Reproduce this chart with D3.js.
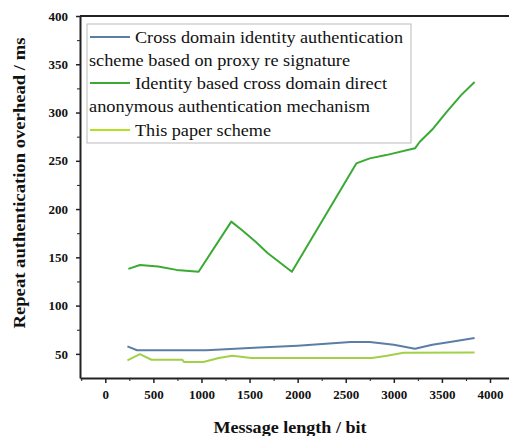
<!DOCTYPE html>
<html lang="en">
<head>
    <meta charset="UTF-8">
    <script src="https://cdnjs.cloudflare.com/ajax/libs/d3/7.8.5/d3.min.js" type="text/JavaScript"></script>
    <style>
        body {
            margin: 0;
            background: #fff;
        }
        svg {
            display: block;
        }
    </style>
</head>
<body>
    <svg id="chart" width="509" height="436"></svg>

    <script>
        // message length (bit) and overhead (ms)
        const proxyX = [230, 330, 1050, 1600, 2000, 2550, 2750, 3000, 3220, 3400, 3600, 3840];
        const proxyY = [57.7, 53.8, 53.8, 56.5, 58.5, 62.2, 62.2, 59.4, 55.3, 59.5, 62.5, 66.4];

        const directX = [240, 360, 550, 740, 970, 1310, 1420, 1560, 1690, 1940, 2610, 2750, 2920, 3220, 3270, 3410, 3550, 3700, 3840];
        const directY = [138, 142, 140.5, 137, 135, 187, 178.4, 166.3, 154.3, 135, 247.3, 252.5, 255.9, 262.9, 269.7, 283.5, 300.7, 318, 331.7];

        const paperX = [230, 360, 480, 800, 820, 1020, 1180, 1320, 1520, 2770, 2930, 3100, 3840];
        const paperY = [43.2, 49.8, 43.9, 43.9, 41.5, 41.5, 45.7, 48.1, 45.7, 45.7, 48.1, 51.2, 51.5];

        const xTicks = [0, 500, 1000, 1500, 2000, 2500, 3000, 3500, 4000];
        const xMinor = [-250, 250, 750, 1250, 1750, 2250, 2750, 3250, 3750];
        const yTicks = [50, 100, 150, 200, 250, 300, 350, 400];
        const yMinor = [75, 125, 175, 225, 275, 325, 375];

        const seriesNames = [
            ["Cross domain identity authentication", "scheme based on proxy re signature"],
            ["Identity based cross domain direct", "anonymous authentication mechanism"],
            ["This paper scheme"]
        ];
        const seriesColors = ["#5b7ea6", "#3aaa35", "#a2d048"];

        const fontName = "Liberation Serif";

        function drawChart() {
            const svg = d3.select("#chart");
            const left = 80, right = 515, top = 16, bottom = 378;

            const x = d3.scaleLinear().domain([-263, 4260]).range([left, right]);
            const y = d3.scaleLinear().domain([25, 400]).range([bottom, top]);

            const series = [
                d3.zip(proxyX, proxyY),
                d3.zip(directX, directY),
                d3.zip(paperX, paperY)
            ];

            // top frame line
            svg.append("line")
                .attr("x1", left).attr("x2", 509)
                .attr("y1", y(400)).attr("y2", y(400))
                .attr("stroke", "#222")
                .attr("stroke-width", 2);

            // minor ticks first, then major axes on top
            svg.append("g")
                .attr("transform", `translate(0, ${bottom})`)
                .call(d3.axisBottom(x).tickValues(xMinor).tickSize(3).tickSizeOuter(0).tickFormat(""))
                .call(g => g.select(".domain").remove())
                .call(g => g.selectAll("line").attr("stroke", "#222"));

            svg.append("g")
                .attr("transform", `translate(${left}, 0)`)
                .call(d3.axisLeft(y).tickValues(yMinor).tickSize(3).tickSizeOuter(0).tickFormat(""))
                .call(g => g.select(".domain").remove())
                .call(g => g.selectAll("line").attr("stroke", "#222"));

            const styleAxis = g => {
                g.select(".domain").attr("stroke", "#222").attr("stroke-width", 2);
                g.selectAll(".tick line").attr("stroke", "#222").attr("stroke-width", 1.5);
                g.selectAll(".tick text")
                    .attr("fill", "#111")
                    .attr("font-family", fontName)
                    .attr("font-size", 13)
                    .attr("font-weight", "bold");
            };

            svg.append("g")
                .attr("transform", `translate(0, ${bottom})`)
                .call(d3.axisBottom(x).tickValues(xTicks).tickSize(5).tickSizeOuter(0)
                    .tickPadding(7).tickFormat(d3.format("d")))
                .call(styleAxis);

            svg.append("g")
                .attr("transform", `translate(${left}, 0)`)
                .call(d3.axisLeft(y).tickValues(yTicks).tickSize(4).tickSizeOuter(0)
                    .tickPadding(8).tickFormat(d3.format("d")))
                .call(styleAxis);

            // axis titles
            svg.append("text")
                .attr("x", 290)
                .attr("y", 433)
                .attr("text-anchor", "middle")
                .attr("textLength", 153)
                .attr("lengthAdjust", "spacingAndGlyphs")
                .attr("font-family", fontName)
                .attr("font-size", 16)
                .attr("font-weight", "bold")
                .attr("fill", "#111")
                .text("Message length / bit");

            svg.append("text")
                .attr("transform", "translate(25, 183) rotate(-90)")
                .attr("text-anchor", "middle")
                .attr("textLength", 291)
                .attr("lengthAdjust", "spacingAndGlyphs")
                .attr("font-family", fontName)
                .attr("font-size", 16)
                .attr("font-weight", "bold")
                .attr("fill", "#111")
                .text("Repeat authentication overhead / ms");

            // lines
            const line = d3.line()
                .x(d => x(d[0]))
                .y(d => y(d[1]));

            svg.append("g")
                .selectAll("path")
                .data(series)
                .join("path")
                .attr("d", line)
                .attr("fill", "none")
                .attr("stroke", (d, i) => seriesColors[i])
                .attr("stroke-width", 2)
                .attr("stroke-linejoin", "round");

            // legend
            const legend = svg.append("g");

            legend.append("rect")
                .attr("x", 87).attr("y", 24)
                .attr("width", 324).attr("height", 119)
                .attr("fill", "#fff")
                .attr("stroke", "#bbb")
                .attr("stroke-width", 1);

            const rowY = [37, 83, 130];
            const lineWidths = [[268, 261], [252, 281], [136]];

            seriesNames.forEach((names, i) => {
                legend.append("line")
                    .attr("x1", 90).attr("x2", 130)
                    .attr("y1", rowY[i]).attr("y2", rowY[i])
                    .attr("stroke", i === 2 ? "#b4e024" : seriesColors[i])
                    .attr("stroke-width", 2);

                names.forEach((t, j) => {
                    legend.append("text")
                        .attr("x", j === 0 ? 135 : 89)
                        .attr("y", rowY[i] + 6 + j * 23)
                        .attr("font-family", fontName)
                        .attr("font-size", 16)
                        .attr("fill", "#111")
                        .attr("textLength", lineWidths[i][j])
                        .attr("lengthAdjust", "spacingAndGlyphs")
                        .text(t);
                });
            });
        }

        drawChart();
    </script>
</body>
</html>
